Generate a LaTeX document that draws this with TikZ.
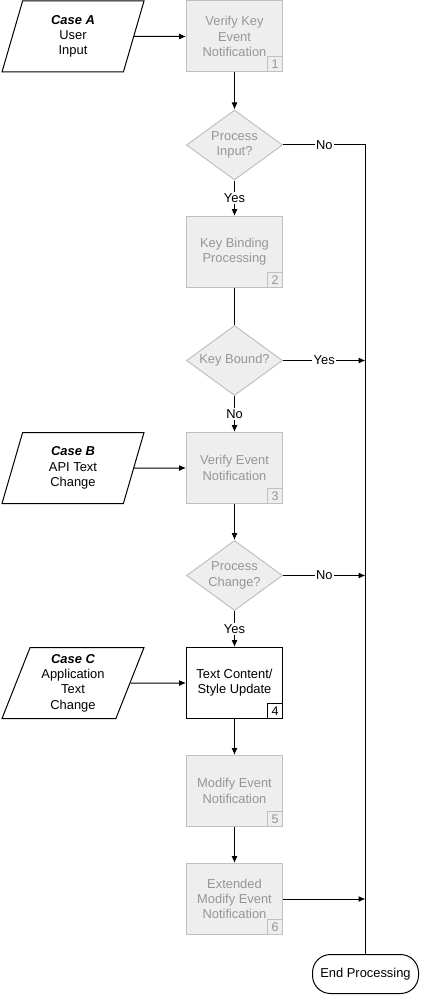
\documentclass[tikz,border=0pt]{standalone}
\usepackage{fontspec}
\setmainfont{Liberation Sans}
\usetikzlibrary{shapes,arrows,arrows.meta}

\definecolor{boxfill}{RGB}{238,238,238}
\definecolor{boxline}{RGB}{192,192,192}
\definecolor{boxtext}{RGB}{150,150,150}

\begin{document}
\begin{tikzpicture}[x=1pt, y=-1pt, line width=1pt, >={Latex[length=7pt,width=6pt]},
    every node/.style={font=\fontsize{12.9}{15.3}\selectfont, align=center},
    greybox/.style={rectangle, draw=boxline, fill=boxfill, text=boxtext, minimum width=96pt, minimum height=71pt, inner sep=0pt},
    greydia/.style={diamond, aspect=1.37, draw=boxline, fill=boxfill, text=boxtext, minimum width=96pt, minimum height=70pt, inner sep=0pt},
    casebox/.style={trapezium, trapezium left angle=64, trapezium right angle=116, trapezium stretches body, draw, minimum width=142pt, minimum height=71pt, inner sep=0pt},
    numbox/.style={rectangle, draw=boxline, text=boxtext, minimum size=15pt, inner sep=0pt, anchor=south east, font=\fontsize{12.5}{12.5}\selectfont},
    lbl/.style={fill=white, inner sep=1.5pt},
    endbox/.style={rectangle, rounded corners=18pt, draw, minimum width=106pt, minimum height=39pt, inner sep=0pt}]

    \useasboundingbox (0,0) rectangle (420,995);

%inputs
    \node[casebox] (caseA) at (73,36.5) {{\bfseries\itshape Case A}\\User\\Input};
    \node[casebox] (caseB) at (73,468) {{\bfseries\itshape Case B}\\API Text\\Change};
    \node[casebox] (caseC) at (73,683) {{\bfseries\itshape Case C}\\Application\\Text\\Change};

%steps
    \node[greybox] (b1) at (234.5,36.5) {Verify Key\\Event\\Notification};
    \node[greydia] (d1) at (234.5,145) {Process\\Input?};
    \node[greybox] (b2) at (234.5,252) {Key Binding\\Processing};
    \node[greydia] (d2) at (234.5,360.5) {Key Bound?};
    \node[greybox] (b3) at (234.5,468) {Verify Event\\Notification};
    \node[greydia] (d3) at (234.5,575.5) {Process\\Change?};
    \node[greybox, draw=black, fill=white, text=black] (b4) at (234.5,683) {Text Content/\\Style Update};
    \node[greybox] (b5) at (234.5,791) {Modify Event\\Notification};
    \node[greybox] (b6) at (234.5,899) {Extended\\Modify Event\\Notification};
    \node[endbox] (endp) at (365.5,974) {End Processing};

    \foreach \n in {1,2,3,5,6} {
        \node[numbox] (n\n) at (b\n.south east) {\n};
    }
    \node[numbox, draw=black, text=black] (n4) at (b4.south east) {4};

%flow
    \draw[->] (caseA) -- (b1);
    \draw[->] (caseB) -- (b3);
    \draw[->] (caseC) -- (b4);
    \draw[->] (b1) -- (d1);
    \draw[->] (d1) -- node[lbl] {Yes} (b2);
    \draw (b2) -- (d2);
    \draw[->] (d2) -- node[lbl] {No} (b3);
    \draw[->] (b3) -- (d3);
    \draw[->] (d3) -- node[lbl] {Yes} (b4);
    \draw[->] (b4) -- (b5);
    \draw[->] (b5) -- (b6);

%exits
    \draw (d1.east) -- node[lbl] {No} (d1.east -| endp.north) -- (endp.north);
    \draw[->] (d2.east) -- node[lbl] {Yes} (d2.east -| endp.north);
    \draw[->] (d3.east) -- node[lbl] {No} (d3.east -| endp.north);
    \draw[->] (b6.east) -- (b6.east -| endp.north);

\end{tikzpicture}
\end{document}
